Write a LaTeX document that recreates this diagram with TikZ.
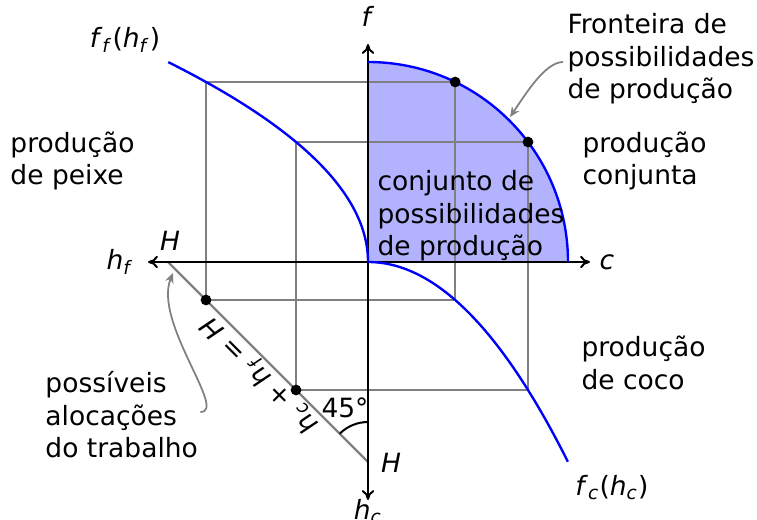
\documentclass[tikz,border=0pt]{standalone}
\usepackage{fontspec}
\setmainfont{DejaVu Sans}
\usetikzlibrary{arrows.meta}
\begin{document}
\begin{tikzpicture}[x=0.4pt,y=0.4pt,
  lbl/.style={font=\fontsize{10.6}{13}\selectfont, inner sep=0pt},
  blk/.style={lbl, align=left, anchor=west},
  gridline/.style={draw=gray, line width=0.85pt},
  axisline/.style={line width=0.8pt, {To[length=4pt,width=5pt]}-{To[length=4pt,width=5pt]}},
  bluecurve/.style={blue, line width=0.95pt},
  dot/.style={circle, fill=black, inner sep=0pt, minimum size=4.3pt},
  note/.style={gray, line width=0.7pt, -{Stealth[length=4pt,width=3.5pt]}}]
\useasboundingbox (-368,-257) rectangle (389,262);

% coordinates
\coordinate (O) at (0,0);
\coordinate (Hf) at (-200,0);
\coordinate (Hc) at (0,-200);
\coordinate (axL) at (-220,0);
\coordinate (axR) at (222,0);
\coordinate (axT) at (0,218);
\coordinate (axB) at (0,-238);

% feasible set
\fill[blue!30] (0,0) -- (0,200) arc[start angle=90, end angle=0, radius=200] -- cycle;

% dot positions
\coordinate (P1) at (87.2,180);
\coordinate (P2) at (160,120);
\coordinate (Q1) at (-162,-38);
\coordinate (Q2) at (-72,-128);

% grid rectangles
\draw[gridline] (Q1) rectangle (P1);
\draw[gridline] (Q2) rectangle (P2);

% diagonal
\draw[gridline] (Hf) -- (Hc);

% axes
\draw[axisline] (axL) -- (axR);
\draw[axisline] (axB) -- (axT);

% curves
\draw[bluecurve] (0,200) arc[start angle=90, end angle=0, radius=200];
\draw[bluecurve] plot[domain=0:1, samples=60, smooth] ({-200*\x*\x},{200*\x});
\draw[bluecurve] plot[domain=0:1, samples=60, smooth] ({200*\x},{-200*\x*\x});

% dots
\node[dot] (P1dot) at (P1) {};
\node[dot] (P2dot) at (P2) {};
\node[dot] (Q1dot) at (Q1) {};
\node[dot] (Q2dot) at (Q2) {};

% angle
\draw[line width=0.8pt] ([shift={(90:40)}]Hc) arc[start angle=90, end angle=135, radius=40];
\node[lbl] (ang) at (-23,-146) {45°};

% axis labels
\node[lbl] (flab) at (0,246) {\textit{f}};
\node[lbl] (clab) at (239,0) {\textit{c}};
\node[lbl] (hflab) at (-248,0) {\textit{h}\textsubscript{\textit{f}}};
\node[lbl] (hclab) at (0,-250) {\textit{h}\textsubscript{\textit{c}}};
\node[lbl] (HHf) at (-198,21) {\textit{H}};
\node[lbl] (HHc) at (23,-201) {\textit{H}};
\node[lbl] (fflab) at (-243,222) {\textit{f}\textsubscript{\textit{f}}(\textit{h}\textsubscript{\textit{f}})};
\node[lbl] (fclab) at (244,-226) {\textit{f}\textsubscript{\textit{c}}(\textit{h}\textsubscript{\textit{c}})};

% diagonal label
\node[lbl, rotate=135] (eq) at (-108,-113) {\textit{h}\textsubscript{\textit{c}} + \textit{h}\textsubscript{\textit{f}} = \textit{H}};

% text blocks
\node[blk] (peixe) at (-358,101) {produção\\de peixe};
\node[blk] (conj) at (214,101) {produção\\conjunta};
\node[blk] (coco) at (213,-101) {produção\\de coco};
\node[blk] (aloc) at (-323,-153) {possíveis\\alocações\\do trabalho};
\node[blk] (front) at (199,203) {Fronteira de\\possibilidades\\de produção};
\node[blk] (cjt) at (9,46) {conjunto de\\possibilidades\\de produção};

% notes
\coordinate (ppfpt) at (142,145);
\coordinate (diagpt) at (-195,-11);
\draw[note] ([shift={(-4,-3)}]front.west) .. controls (177,200) and (157,167) .. (ppfpt);
\draw[note] ([shift={(2,3)}]aloc.east) .. controls (-140,-150) and (-215,-60) .. (diagpt);
\end{tikzpicture}
\end{document}
